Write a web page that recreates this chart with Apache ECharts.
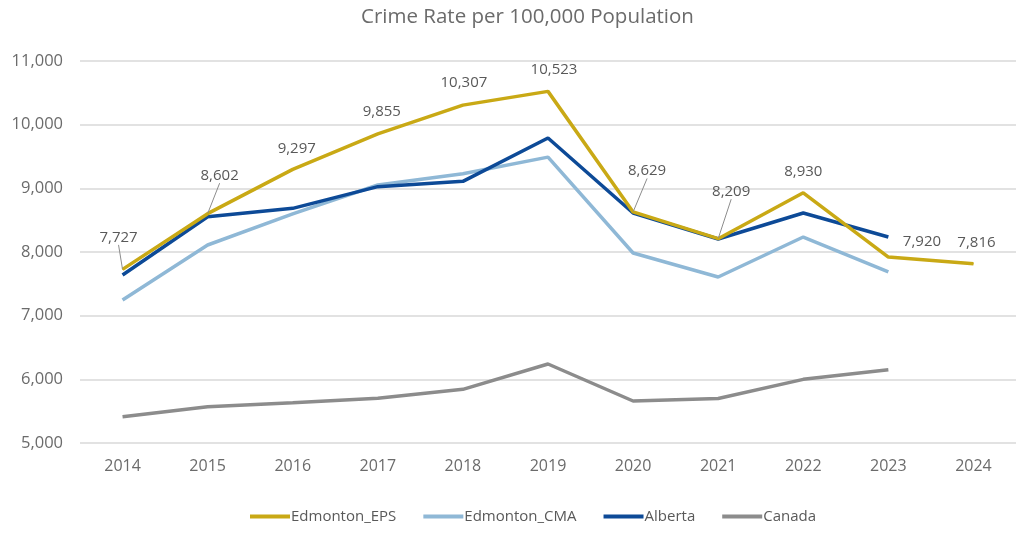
<!DOCTYPE html>
<html>
<head>
<meta charset="utf-8">
<script src="https://cdn.jsdelivr.net/npm/echarts@6/dist/echarts.min.js"></script>
<style>html,body{margin:0;padding:0;background:#fff}#c{width:1016px;height:533px}</style>
</head>
<body>
<div id="c"></div>
<script>
const years = ['2014','2015','2016','2017','2018','2019','2020','2021','2022','2023','2024'];
const edmontonEPS = [7727, 8602, 9297, 9855, 10307, 10523, 8629, 8209, 8930, 7920, 7816];
const edmontonCMA = [7246, 8110, 8600, 9052, 9230, 9490, 7984, 7607, 8235, 7686, null];
const alberta     = [7639, 8554, 8686, 9026, 9110, 9790, 8612, 8204, 8612, 8235, null];
const canada      = [5413, 5570, 5633, 5702, 5843, 6241, 5660, 5700, 6000, 6150, null];

// label displacement (px) for EPS labels, and whether a leader line is drawn
const epsLabelShift = [[-4,-19],[12,-25],[4,-8],[4,-9],[1,-9],[6,-9],[14,-28],[13,-34],[0,-8],[0,-15],[3,-8]];
const epsLeader = [true,true,false,false,false,false,true,true,false,false,false];

const textColor = '#595959';
const font = '"Open Sans", sans-serif';

const chart = echarts.init(document.getElementById('c'));
const epsData = edmontonEPS.map((v,i)=>{
  const d = {value: v, labelLine: {show: epsLeader[i]}};
  if (i === 9) d.label = {position: 'right', distance: 14};
  return d;
});

const hiddenSymbol = {symbol: 'circle', symbolSize: 1, showSymbol: true, showAllSymbol: true};

chart.setOption({
  animation: false,
  title: {
    text: 'Crime Rate per 100,000 Population',
    left: 356, top: 2,
    textStyle: {color: '#6b6b6b', fontSize: 20.5, fontWeight: 'normal', fontFamily: font}
  },
  legend: {
    bottom: 4, left: 245,
    icon: 'rect', itemWidth: 40, itemHeight: 4, itemGap: 27,
    textStyle: {color: textColor, fontSize: 15, fontFamily: font, padding:[0,0,0,-4]},
    data: ['Edmonton_EPS','Edmonton_CMA','Alberta','Canada']
  },
  grid: {left: 80, right: 0, top: 61, bottom: 90},
  xAxis: {
    type: 'category', data: years, boundaryGap: true,
    axisLine: {show: false}, axisTick: {show: false},
    axisLabel: {color: '#6b6b6b', fontSize: 16, fontFamily: font, margin: 15}
  },
  yAxis: {
    type: 'value', min: 5000, max: 11000, interval: 1000,
    axisLabel: {color: '#6b6b6b', fontSize: 16.5, fontFamily: font, margin: 17,
      formatter: v => v.toLocaleString('en-US')},
    splitLine: {lineStyle: {color: '#d9d9d9', width: 1.5}},
    axisLine: {show: false}, axisTick: {show: false}
  },
  series: [
    Object.assign({
      name: 'Edmonton_EPS', type: 'line', data: epsData, z: 4,
      color: '#c9a915',
      itemStyle: {color: '#c9a915'},
      lineStyle: {width: 3.5, color: '#c9a915'},
      label: {show: true, position: 'top', distance: 5, color: textColor, fontSize: 15, fontFamily: font,
        formatter: p => p.value.toLocaleString('en-US')},
      labelLine: {show: false, lineStyle: {color: '#8c8c8c', width: 1}},
      labelLayout: function (p) {
        const s = epsLabelShift[p.dataIndex];
        return {dx: s[0], dy: s[1]};
      }
    }, hiddenSymbol),
    {
      name: 'Edmonton_CMA', type: 'line', data: edmontonCMA, z: 2,
      symbol: 'none', color: '#8fb8d6',
      lineStyle: {width: 3.5, color: '#8fb8d6'}
    },
    {
      name: 'Alberta', type: 'line', data: alberta, z: 3,
      symbol: 'none', color: '#0d4a97',
      lineStyle: {width: 3.5, color: '#0d4a97'}
    },
    {
      name: 'Canada', type: 'line', data: canada, z: 2,
      symbol: 'none', color: '#8c8c8c',
      lineStyle: {width: 3.5, color: '#8c8c8c'}
    }
  ]
});
</script>
</body>
</html>
